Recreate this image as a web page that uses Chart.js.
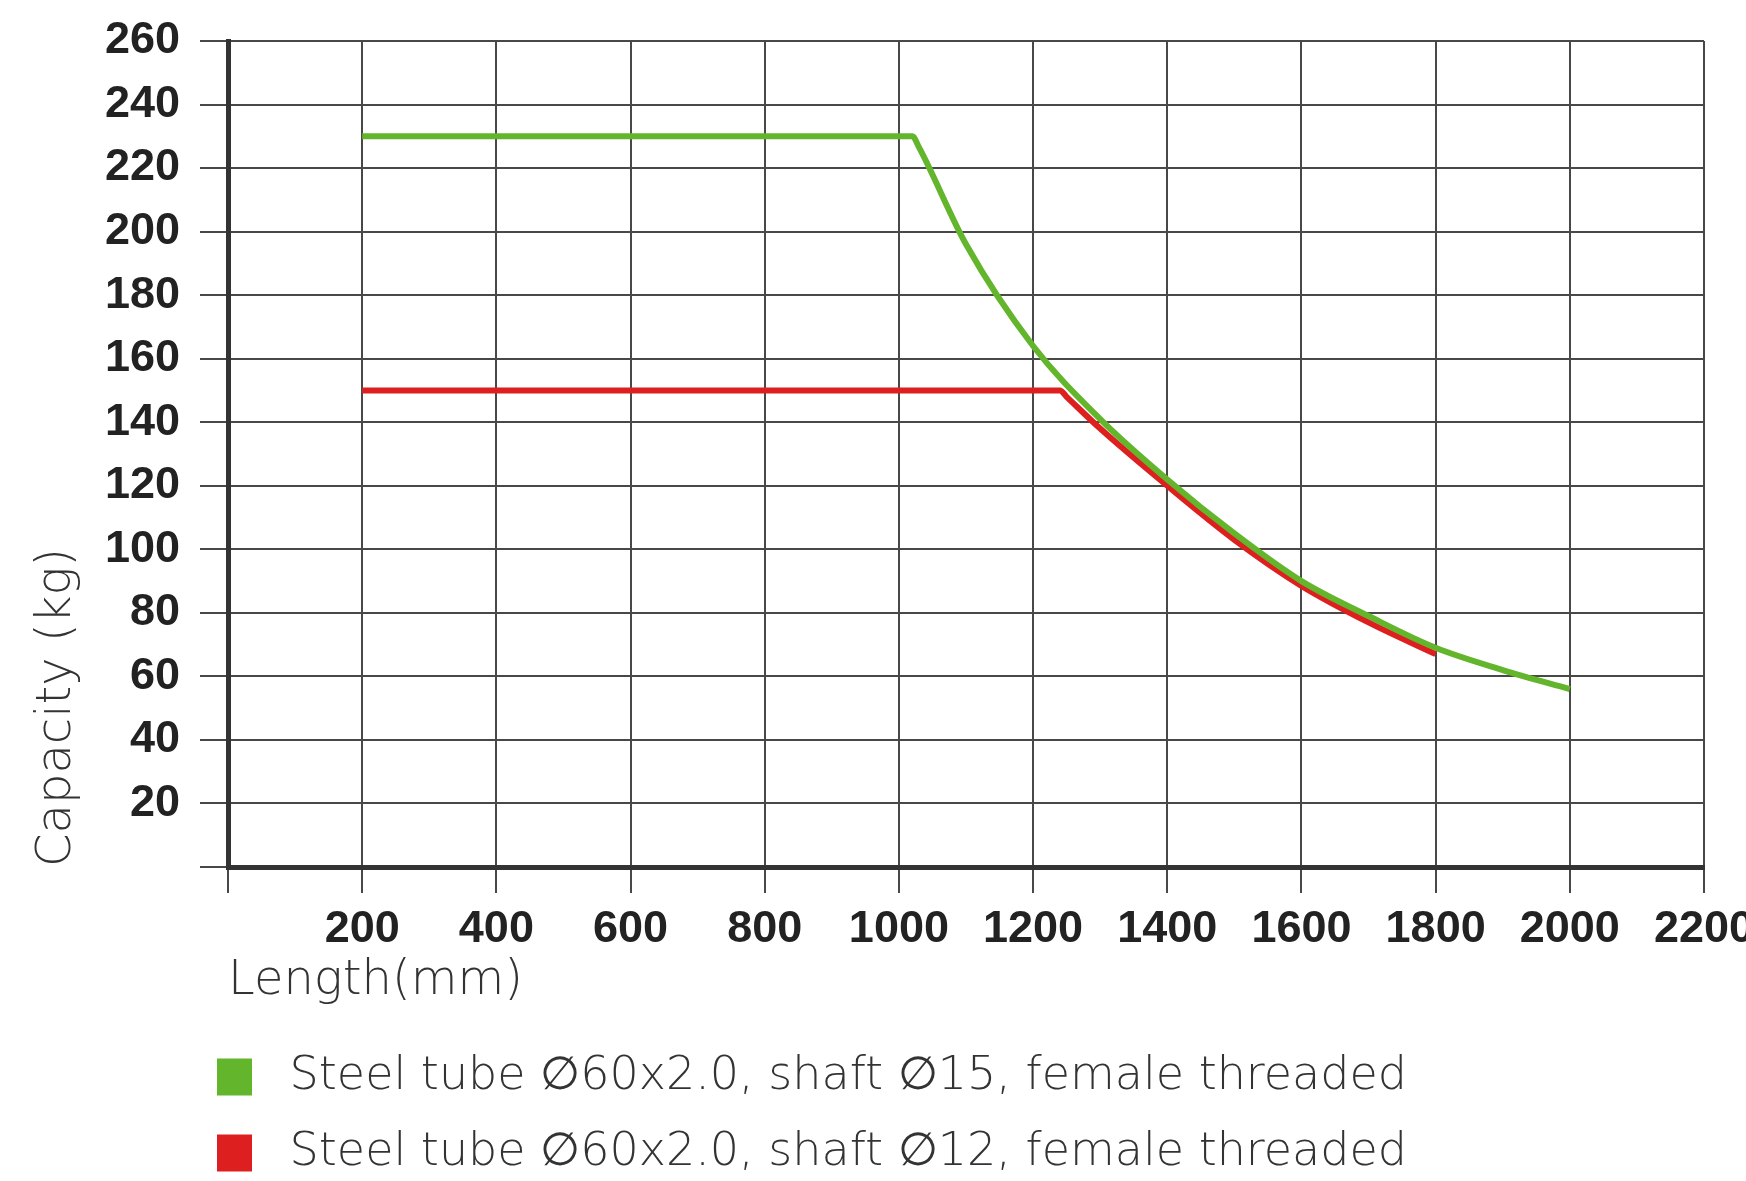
<!DOCTYPE html>
<html>
<head>
<meta charset="utf-8">
<script src="https://cdn.jsdelivr.net/npm/chart.js@4.4.1/dist/chart.umd.min.js"></script>
<style>
  html, body { margin: 0; padding: 0; background: #fff; }
  #box { width: 1746px; height: 1181px; }
</style>
</head>
<body>
<div id="box"><canvas id="diagramm"></canvas></div>
<script>
// Werte
var laengeGruen = [200, 1020, 1030, 1100, 1200, 1300, 1400, 1500, 1600, 1700, 1800, 1900, 2000];
var lastGruen   = [230, 230, 226.5, 196, 164, 141, 122, 105, 90, 79, 69, 62, 56];

var laengeRot = [200, 1240, 1250, 1300, 1400, 1500, 1600, 1700, 1800];
var lastRot   = [150, 150, 148, 138, 120, 103, 88.5, 77, 67];

var nameGruen = 'Steel tube \u220560x2.0, shaft \u220515, female threaded';
var nameRot   = 'Steel tube \u220560x2.0, shaft \u220512, female threaded';

var schriftDünn = 'DejaVu Sans';

function punkte(xs, ys) {
    return xs.map(function(x, i) {
        return { x: x, y: ys[i] };
    });
}

// Legende an die Position im Bild schieben
var legendeVerschieben = {
    id: 'legendeVerschieben',
    afterLayout: function(chart) {
        chart.legend.left += 187;
        chart.legend.top += 5;
    }
};

var ctx = document.getElementById('diagramm').getContext('2d');
var diagramm = new Chart(ctx, {
    type: 'line',
    data: {
        datasets: [{
            label: nameGruen,
            data: punkte(laengeGruen, lastGruen),
            borderColor: '#63b52c',
            backgroundColor: '#63b52c',
            borderWidth: 6,
            pointRadius: 0,
            cubicInterpolationMode: 'monotone'
        }, {
            label: nameRot,
            data: punkte(laengeRot, lastRot),
            borderColor: '#dd1f1f',
            backgroundColor: '#dd1f1f',
            borderWidth: 6,
            pointRadius: 0,
            cubicInterpolationMode: 'monotone'
        }]
    },
    options: {
        responsive: true,
        maintainAspectRatio: false,
        animation: false,
        layout: {
            padding: { top: 41, right: 42, left: 0, bottom: 0 }
        },
        plugins: {
            tooltip: { enabled: false },
            legend: {
                position: 'bottom',
                align: 'start',
                labels: {
                    boxWidth: 35,
                    boxHeight: 37,
                    padding: 30,
                    color: '#333',
                    font: { family: schriftDünn, size: 46, weight: '200' },
                    generateLabels: function(chart) {
                        var items = Chart.defaults.plugins.legend.labels.generateLabels(chart);
                        items.forEach(function(item) {
                            item.text = ' ' + item.text;
                            item.lineWidth = 0;
                        });
                        return items;
                    }
                }
            }
        },
        scales: {
            x: {
                type: 'linear',
                min: 0,
                max: 2200,
                border: { display: true, color: '#333', width: 5 },
                grid: { color: '#484848', lineWidth: 2, tickLength: 26 },
                ticks: {
                    stepSize: 200,
                    color: '#222',
                    padding: 10,
                    maxRotation: 0,
                    font: { family: 'Liberation Sans', size: 45, weight: 'bold' },
                    callback: function(v) { return v === 0 ? '' : v; }
                },
                title: {
                    display: true,
                    text: 'Length(mm)',
                    align: 'start',
                    color: '#333',
                    padding: { top: 0, bottom: 13 },
                    font: { family: schriftDünn, size: 48, weight: '200', lineHeight: 1 }
                },
                afterFit: function(scale) {
                    scale.height = 152;
                    scale.paddingLeft = 0;
                    scale.paddingRight = 0;
                }
            },
            y: {
                min: 0,
                max: 260,
                border: { display: true, color: '#333', width: 5 },
                grid: { color: '#484848', lineWidth: 2, tickLength: 28 },
                ticks: {
                    stepSize: 20,
                    color: '#222',
                    padding: 20,
                    font: { family: 'Liberation Sans', size: 45, weight: 'bold' },
                    callback: function(v) { return v === 0 ? '' : v; }
                },
                title: {
                    display: true,
                    text: 'Capacity (kg)',
                    align: 'start',
                    color: '#333',
                    padding: { top: 34, bottom: 0 },
                    font: { family: schriftDünn, size: 48, weight: '200', lineHeight: 1 }
                },
                afterFit: function(scale) {
                    scale.width = 228;
                    scale.paddingTop = 0;
                    scale.paddingBottom = 0;
                }
            }
        }
    },
    plugins: [legendeVerschieben]
});
</script>
</body>
</html>
